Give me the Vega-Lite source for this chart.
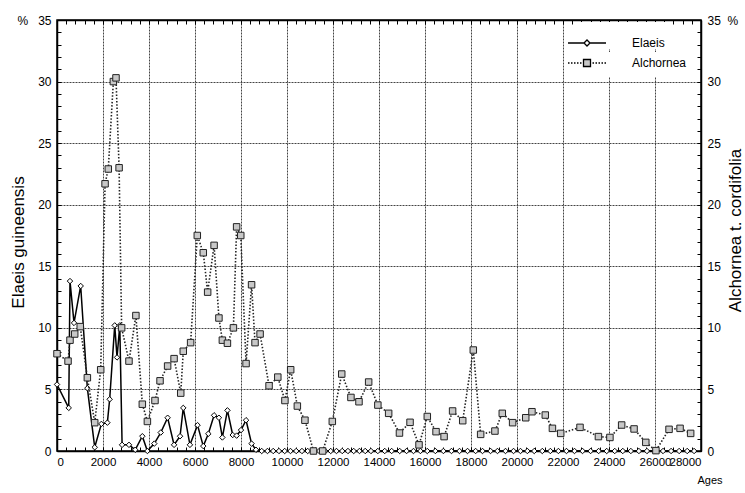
{
  "$schema": "https://vega.github.io/schema/vega-lite/v6.json",
  "width": 644,
  "height": 431,
  "autosize": {"type": "none"},
  "padding": {"left": 57, "top": 20, "right": 44, "bottom": 42},
  "background": "white",
  "config": {
    "view": {"stroke": "black", "strokeWidth": 1.5},
    "font": "Liberation Sans",
    "axis": {
      "labelFont": "Liberation Sans",
      "labelFontSize": 12,
      "labelColor": "black",
      "titleFont": "Liberation Sans",
      "titleFontWeight": "normal",
      "titleColor": "black",
      "domainColor": "black",
      "domainWidth": 1.5,
      "tickColor": "black",
      "gridColor": "#444",
      "gridDash": [2, 1],
      "labelOverlap": false
    },
    "legend": {
      "labelFont": "Liberation Sans",
      "labelFontSize": 12,
      "labelColor": "black",
      "fillColor": "white",
      "padding": 0,
      "symbolSize": 400,
      "symbolStrokeColor": "black",
      "symbolStrokeWidth": 1.3,
      "labelOffset": 34,
      "titlePadding": 2
    }
  },
  "data": {
    "values": [
      {"series": "Elaeis", "age": 0, "pct": 5.4},
      {"series": "Elaeis", "age": 510, "pct": 3.5},
      {"series": "Elaeis", "age": 565, "pct": 13.8},
      {"series": "Elaeis", "age": 740, "pct": 10.4},
      {"series": "Elaeis", "age": 1030, "pct": 13.4},
      {"series": "Elaeis", "age": 1320, "pct": 5.1},
      {"series": "Elaeis", "age": 1640, "pct": 0.3},
      {"series": "Elaeis", "age": 1930, "pct": 2.2},
      {"series": "Elaeis", "age": 2190, "pct": 2.3},
      {"series": "Elaeis", "age": 2290, "pct": 4.2},
      {"series": "Elaeis", "age": 2510, "pct": 10.2},
      {"series": "Elaeis", "age": 2610, "pct": 7.6},
      {"series": "Elaeis", "age": 2730, "pct": 10.2},
      {"series": "Elaeis", "age": 2830, "pct": 0.5},
      {"series": "Elaeis", "age": 3130, "pct": 0.5},
      {"series": "Elaeis", "age": 3400, "pct": 0.1},
      {"series": "Elaeis", "age": 3710, "pct": 1.2},
      {"series": "Elaeis", "age": 3930, "pct": 0},
      {"series": "Elaeis", "age": 4230, "pct": 0.6},
      {"series": "Elaeis", "age": 4510, "pct": 1.5},
      {"series": "Elaeis", "age": 4810, "pct": 2.7},
      {"series": "Elaeis", "age": 5090, "pct": 0.5},
      {"series": "Elaeis", "age": 5350, "pct": 1.2},
      {"series": "Elaeis", "age": 5490, "pct": 3.5},
      {"series": "Elaeis", "age": 5780, "pct": 0.5},
      {"series": "Elaeis", "age": 6110, "pct": 2.1},
      {"series": "Elaeis", "age": 6360, "pct": 0.4},
      {"series": "Elaeis", "age": 6580, "pct": 1.4},
      {"series": "Elaeis", "age": 6830, "pct": 2.9},
      {"series": "Elaeis", "age": 7040, "pct": 2.7},
      {"series": "Elaeis", "age": 7190, "pct": 1.1},
      {"series": "Elaeis", "age": 7410, "pct": 3.3},
      {"series": "Elaeis", "age": 7640, "pct": 1.3},
      {"series": "Elaeis", "age": 7810, "pct": 1.25},
      {"series": "Elaeis", "age": 8000, "pct": 1.7},
      {"series": "Elaeis", "age": 8220, "pct": 2.5},
      {"series": "Elaeis", "age": 8460, "pct": 0.6},
      {"series": "Elaeis", "age": 8650, "pct": 0.1},
      {"series": "Elaeis", "age": 8900, "pct": 0},
      {"series": "Elaeis", "age": 9150, "pct": 0},
      {"series": "Elaeis", "age": 9400, "pct": 0},
      {"series": "Elaeis", "age": 9650, "pct": 0},
      {"series": "Elaeis", "age": 9900, "pct": 0},
      {"series": "Elaeis", "age": 10150, "pct": 0},
      {"series": "Elaeis", "age": 10400, "pct": 0},
      {"series": "Elaeis", "age": 10650, "pct": 0},
      {"series": "Elaeis", "age": 10900, "pct": 0},
      {"series": "Elaeis", "age": 11150, "pct": 0},
      {"series": "Elaeis", "age": 11400, "pct": 0},
      {"series": "Elaeis", "age": 11650, "pct": 0},
      {"series": "Elaeis", "age": 11900, "pct": 0},
      {"series": "Elaeis", "age": 12150, "pct": 0},
      {"series": "Elaeis", "age": 12400, "pct": 0},
      {"series": "Elaeis", "age": 12650, "pct": 0},
      {"series": "Elaeis", "age": 12900, "pct": 0},
      {"series": "Elaeis", "age": 13150, "pct": 0},
      {"series": "Elaeis", "age": 13400, "pct": 0},
      {"series": "Elaeis", "age": 13650, "pct": 0},
      {"series": "Elaeis", "age": 13950, "pct": 0},
      {"series": "Elaeis", "age": 14250, "pct": 0},
      {"series": "Elaeis", "age": 14550, "pct": 0},
      {"series": "Elaeis", "age": 14900, "pct": 0},
      {"series": "Elaeis", "age": 15200, "pct": 0},
      {"series": "Elaeis", "age": 15500, "pct": 0},
      {"series": "Elaeis", "age": 15800, "pct": 0},
      {"series": "Elaeis", "age": 16100, "pct": 0},
      {"series": "Elaeis", "age": 16450, "pct": 0},
      {"series": "Elaeis", "age": 16800, "pct": 0},
      {"series": "Elaeis", "age": 17150, "pct": 0},
      {"series": "Elaeis", "age": 17500, "pct": 0},
      {"series": "Elaeis", "age": 17850, "pct": 0},
      {"series": "Elaeis", "age": 18200, "pct": 0},
      {"series": "Elaeis", "age": 18500, "pct": 0},
      {"series": "Elaeis", "age": 18850, "pct": 0},
      {"series": "Elaeis", "age": 19150, "pct": 0},
      {"series": "Elaeis", "age": 19500, "pct": 0},
      {"series": "Elaeis", "age": 19850, "pct": 0},
      {"series": "Elaeis", "age": 20150, "pct": 0},
      {"series": "Elaeis", "age": 20450, "pct": 0},
      {"series": "Elaeis", "age": 20750, "pct": 0},
      {"series": "Elaeis", "age": 21100, "pct": 0},
      {"series": "Elaeis", "age": 21450, "pct": 0},
      {"series": "Elaeis", "age": 21800, "pct": 0},
      {"series": "Elaeis", "age": 22150, "pct": 0},
      {"series": "Elaeis", "age": 22500, "pct": 0},
      {"series": "Elaeis", "age": 22850, "pct": 0},
      {"series": "Elaeis", "age": 23200, "pct": 0},
      {"series": "Elaeis", "age": 23550, "pct": 0},
      {"series": "Elaeis", "age": 23900, "pct": 0},
      {"series": "Elaeis", "age": 24250, "pct": 0},
      {"series": "Elaeis", "age": 24600, "pct": 0},
      {"series": "Elaeis", "age": 24950, "pct": 0},
      {"series": "Elaeis", "age": 25300, "pct": 0},
      {"series": "Elaeis", "age": 25650, "pct": 0},
      {"series": "Elaeis", "age": 26000, "pct": 0},
      {"series": "Elaeis", "age": 26350, "pct": 0},
      {"series": "Elaeis", "age": 26700, "pct": 0},
      {"series": "Elaeis", "age": 27050, "pct": 0},
      {"series": "Elaeis", "age": 27400, "pct": 0},
      {"series": "Elaeis", "age": 27700, "pct": 0},
      {"series": "Alchornea", "age": 0, "pct": 7.9},
      {"series": "Alchornea", "age": 480, "pct": 7.3},
      {"series": "Alchornea", "age": 565, "pct": 9.0},
      {"series": "Alchornea", "age": 770, "pct": 9.5},
      {"series": "Alchornea", "age": 1010, "pct": 10.1},
      {"series": "Alchornea", "age": 1320, "pct": 5.95},
      {"series": "Alchornea", "age": 1640, "pct": 2.3},
      {"series": "Alchornea", "age": 1900, "pct": 6.6},
      {"series": "Alchornea", "age": 2090, "pct": 21.7},
      {"series": "Alchornea", "age": 2230, "pct": 22.9},
      {"series": "Alchornea", "age": 2450, "pct": 30.0},
      {"series": "Alchornea", "age": 2565, "pct": 30.3},
      {"series": "Alchornea", "age": 2700, "pct": 23.0},
      {"series": "Alchornea", "age": 2810, "pct": 10.0},
      {"series": "Alchornea", "age": 3130, "pct": 7.3},
      {"series": "Alchornea", "age": 3430, "pct": 11.0},
      {"series": "Alchornea", "age": 3710, "pct": 3.8},
      {"series": "Alchornea", "age": 3930, "pct": 2.4},
      {"series": "Alchornea", "age": 4260, "pct": 4.1},
      {"series": "Alchornea", "age": 4480, "pct": 5.7},
      {"series": "Alchornea", "age": 4810, "pct": 6.9},
      {"series": "Alchornea", "age": 5090, "pct": 7.5},
      {"series": "Alchornea", "age": 5380, "pct": 4.7},
      {"series": "Alchornea", "age": 5490, "pct": 8.1},
      {"series": "Alchornea", "age": 5810, "pct": 8.8},
      {"series": "Alchornea", "age": 6100, "pct": 17.5},
      {"series": "Alchornea", "age": 6360, "pct": 16.1},
      {"series": "Alchornea", "age": 6550, "pct": 12.9},
      {"series": "Alchornea", "age": 6830, "pct": 16.7},
      {"series": "Alchornea", "age": 7040, "pct": 10.8},
      {"series": "Alchornea", "age": 7190, "pct": 9.0},
      {"series": "Alchornea", "age": 7410, "pct": 8.75},
      {"series": "Alchornea", "age": 7670, "pct": 10.0},
      {"series": "Alchornea", "age": 7810, "pct": 18.2},
      {"series": "Alchornea", "age": 7990, "pct": 17.5},
      {"series": "Alchornea", "age": 8220, "pct": 7.1},
      {"series": "Alchornea", "age": 8460, "pct": 13.5},
      {"series": "Alchornea", "age": 8610, "pct": 8.8},
      {"series": "Alchornea", "age": 8830, "pct": 9.5},
      {"series": "Alchornea", "age": 9220, "pct": 5.3},
      {"series": "Alchornea", "age": 9600, "pct": 6.0},
      {"series": "Alchornea", "age": 9910, "pct": 4.1},
      {"series": "Alchornea", "age": 10160, "pct": 6.6},
      {"series": "Alchornea", "age": 10450, "pct": 3.65},
      {"series": "Alchornea", "age": 10780, "pct": 2.5},
      {"series": "Alchornea", "age": 11150, "pct": 0},
      {"series": "Alchornea", "age": 11550, "pct": 0},
      {"series": "Alchornea", "age": 11970, "pct": 2.4},
      {"series": "Alchornea", "age": 12380, "pct": 6.25},
      {"series": "Alchornea", "age": 12780, "pct": 4.35},
      {"series": "Alchornea", "age": 13130, "pct": 4.0},
      {"series": "Alchornea", "age": 13550, "pct": 5.6},
      {"series": "Alchornea", "age": 13950, "pct": 3.73},
      {"series": "Alchornea", "age": 14420, "pct": 3.06},
      {"series": "Alchornea", "age": 14890, "pct": 1.46},
      {"series": "Alchornea", "age": 15350, "pct": 2.33},
      {"series": "Alchornea", "age": 15740, "pct": 0.5},
      {"series": "Alchornea", "age": 16100, "pct": 2.8},
      {"series": "Alchornea", "age": 16480, "pct": 1.57},
      {"series": "Alchornea", "age": 16830, "pct": 1.17},
      {"series": "Alchornea", "age": 17200, "pct": 3.25},
      {"series": "Alchornea", "age": 17640, "pct": 2.46},
      {"series": "Alchornea", "age": 18100, "pct": 8.2},
      {"series": "Alchornea", "age": 18420, "pct": 1.35},
      {"series": "Alchornea", "age": 19040, "pct": 1.62},
      {"series": "Alchornea", "age": 19360, "pct": 3.06},
      {"series": "Alchornea", "age": 19810, "pct": 2.3},
      {"series": "Alchornea", "age": 20380, "pct": 2.7},
      {"series": "Alchornea", "age": 20650, "pct": 3.19},
      {"series": "Alchornea", "age": 21230, "pct": 2.92},
      {"series": "Alchornea", "age": 21540, "pct": 1.84},
      {"series": "Alchornea", "age": 21900, "pct": 1.43},
      {"series": "Alchornea", "age": 22740, "pct": 1.92},
      {"series": "Alchornea", "age": 23540, "pct": 1.17},
      {"series": "Alchornea", "age": 24040, "pct": 1.1},
      {"series": "Alchornea", "age": 24550, "pct": 2.11},
      {"series": "Alchornea", "age": 25090, "pct": 1.79},
      {"series": "Alchornea", "age": 25600, "pct": 0.7},
      {"series": "Alchornea", "age": 26040, "pct": 0.03},
      {"series": "Alchornea", "age": 26610, "pct": 1.76},
      {"series": "Alchornea", "age": 27090, "pct": 1.84},
      {"series": "Alchornea", "age": 27550, "pct": 1.43}
    ]
  },
  "layer": [
    {
      "transform": [{"filter": "datum.series === 'Elaeis'"}],
      "encoding": {
        "x": {
          "field": "age",
          "type": "quantitative",
          "scale": {"domain": [0, 28000], "nice": false, "zero": false},
          "axis": {
            "orient": "bottom",
            "values": [0,400,800,1200,1600,2000,2400,2800,3200,3600,4000,4400,4800,5200,5600,6000,6400,6800,7200,7600,8000,8400,8800,9200,9600,10000,10400,10800,11200,11600,12000,12400,12800,13200,13600,14000,14400,14800,15200,15600,16000,16400,16800,17200,17600,18000,18400,18800,19200,19600,20000,20400,20800,21200,21600,22000,22400,22800,23200,23600,24000,24400,24800,25200,25600,26000,26400,26800,27200,27600,28000],
            "format": "d",
            "labelExpr": "datum.value % 2000 === 0 ? datum.label : ''",
            "labelFontSize": 11.5,
            "tickSize": -4,
            "labelPadding": 9,
            "grid": true,
            "gridOpacity": {"condition": {"test": "datum.value % 2000 === 0", "value": 1}, "value": 0},
            "title": "Ages",
            "titleFontSize": 11,
            "titleAlign": "right",
            "titleAnchor": "end",
            "titleX": 665,
            "titleY": 23
          }
        },
        "y": {
          "field": "pct",
          "type": "quantitative",
          "scale": {"domain": [0, 35], "nice": false},
          "axis": {
            "orient": "left",
            "values": [0,1,2,3,4,5,6,7,8,9,10,11,12,13,14,15,16,17,18,19,20,21,22,23,24,25,26,27,28,29,30,31,32,33,34,35],
            "labelExpr": "datum.value === 35 ? '%\u00a0\u00a0\u00a035' : (datum.value % 5 === 0 ? datum.label : '')",
            "tickSize": -4,
            "labelPadding": 10,
            "grid": true,
            "gridOpacity": {"condition": {"test": "datum.value % 5 === 0", "value": 1}, "value": 0},
            "title": "Elaeis guineensis",
            "titleFontSize": 17,
            "titleBaseline": "middle",
            "titleX": -39,
            "titleY": 222
          }
        }
      },
      "layer": [
        {"mark": {"type": "line", "color": "black", "strokeWidth": 1.5}},
        {
          "mark": {"type": "point", "shape": "diamond", "filled": true, "stroke": "black", "strokeWidth": 1, "size": 30, "opacity": 1},
          "encoding": {
            "fill": {
              "field": "series",
              "type": "nominal",
              "scale": {"domain": ["Elaeis"], "range": ["white"]},
              "legend": {
                "title": "\u00a0",
                "titleFontSize": 8,
                "titleOrient": "top",
                "orient": "none",
                "legendX": 519,
                "legendY": 2,
                "symbolType": "M-1.9,0H-0.3M0.3,0H1.9M-0.3,0L0,-0.3L0.3,0L0,0.3Z"
              }
            }
          }
        }
      ]
    },
    {
      "transform": [{"filter": "datum.series === 'Alchornea'"}],
      "encoding": {
        "x": {
          "field": "age",
          "type": "quantitative",
          "scale": {"domain": [0, 28000], "nice": false, "zero": false},
          "axis": {
            "orient": "top",
            "values": [0,400,800,1200,1600,2000,2400,2800,3200,3600,4000,4400,4800,5200,5600,6000,6400,6800,7200,7600,8000,8400,8800,9200,9600,10000,10400,10800,11200,11600,12000,12400,12800,13200,13600,14000,14400,14800,15200,15600,16000,16400,16800,17200,17600,18000,18400,18800,19200,19600,20000,20400,20800,21200,21600,22000,22400,22800,23200,23600,24000,24400,24800,25200,25600,26000,26400,26800,27200,27600,28000],
            "labels": false,
            "tickSize": -4,
            "grid": false,
            "title": null
          }
        },
        "y": {
          "field": "pct",
          "type": "quantitative",
          "scale": {"domain": [0, 35], "nice": false},
          "axis": {
            "orient": "right",
            "values": [0,1,2,3,4,5,6,7,8,9,10,11,12,13,14,15,16,17,18,19,20,21,22,23,24,25,26,27,28,29,30,31,32,33,34,35],
            "labelExpr": "datum.value === 35 ? '35\u00a0\u00a0%' : (datum.value % 5 === 0 ? datum.label : '')",
            "tickSize": -4,
            "labelPadding": 10,
            "grid": false,
            "title": "Alchornea t. cordifolia",
            "titleFontSize": 17,
            "titleAngle": 270,
            "titleBaseline": "middle",
            "titleX": 34,
            "titleY": 210
          }
        }
      },
      "layer": [
        {"mark": {"type": "line", "color": "#222", "strokeWidth": 1.6, "strokeDash": [1.5, 1.8]}},
        {
          "mark": {"type": "square", "filled": true, "stroke": "#222", "strokeWidth": 1, "size": 42, "opacity": 1},
          "encoding": {
            "fill": {
              "field": "series",
              "type": "nominal",
              "scale": {"domain": ["Alchornea"], "range": ["#c8c8c8"]},
              "legend": {
                "title": "\u00a0",
                "titleFontSize": 6,
                "titleOrient": "bottom",
                "orient": "none",
                "legendX": 519,
                "legendY": 32,
                "symbolType": "M-1.9,0H-1.75M-1.6,0H-1.45M-1.3,0H-1.15M-1.0,0H-0.85M-0.7,0H-0.55M0.55,0H0.7M0.85,0H1.0M1.15,0H1.3M1.45,0H1.6M1.75,0H1.9M-0.35,-0.35H0.35V0.35H-0.35Z"
              }
            }
          }
        }
      ]
    }
  ],
  "resolve": {
    "scale": {"x": "independent", "y": "independent", "fill": "independent"},
    "legend": {"fill": "independent"}
  }
}
